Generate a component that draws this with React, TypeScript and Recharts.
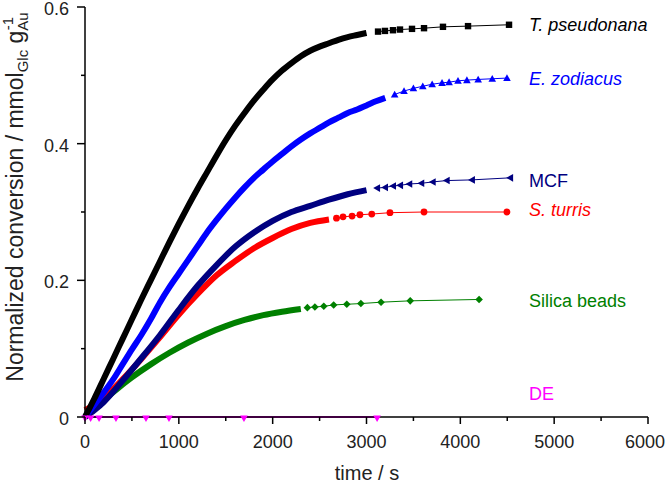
import React from 'react';
import { LineChart, Line, XAxis, YAxis } from 'recharts';

// ---- data (time in s, normalized conversion in mmol_Glc g_Au^-1) ----
const tpTime = [0, 100, 200, 300, 400, 500, 600, 700, 800, 900, 1000, 1100, 1200, 1300, 1400, 1500, 1600, 1700, 1800, 1900, 2000, 2100, 2200, 2300, 2400, 2500, 2600, 2700, 2800, 2900, 3000, 3123, 3197, 3282, 3357, 3485, 3613, 3815, 4082, 4519];
const tpConv = [0, 0.027, 0.056, 0.085, 0.114, 0.143, 0.172, 0.2, 0.228, 0.256, 0.283, 0.309, 0.334, 0.358, 0.382, 0.405, 0.426, 0.445, 0.463, 0.479, 0.494, 0.507, 0.518, 0.528, 0.536, 0.542, 0.547, 0.552, 0.556, 0.559, 0.562, 0.564, 0.565, 0.566, 0.567, 0.568, 0.569, 0.571, 0.572, 0.574];

const ezTime = [0, 100, 200, 300, 400, 500, 600, 700, 800, 900, 1000, 1100, 1200, 1300, 1400, 1500, 1600, 1700, 1800, 1900, 2000, 2100, 2200, 2300, 2400, 2500, 2600, 2700, 2800, 2900, 3000, 3100, 3200, 3300, 3400, 3500, 3600, 3700, 3805, 3880, 3975, 4070, 4190, 4340, 4497];
const ezConv = [0, 0.018, 0.036, 0.055, 0.077, 0.099, 0.12, 0.143, 0.168, 0.19, 0.21, 0.23, 0.25, 0.27, 0.288, 0.305, 0.321, 0.336, 0.35, 0.362, 0.374, 0.385, 0.396, 0.406, 0.415, 0.423, 0.431, 0.438, 0.445, 0.45, 0.456, 0.462, 0.467, 0.472, 0.477, 0.481, 0.484, 0.487, 0.489, 0.49, 0.492, 0.493, 0.494, 0.495, 0.496];

const mcfTime = [0, 100, 200, 400, 600, 800, 1000, 1200, 1400, 1600, 1800, 2000, 2200, 2400, 2600, 2800, 3000, 3112, 3197, 3282, 3357, 3455, 3583, 3705, 3854, 4123, 4530];
const mcfConv = [0, 0.01, 0.022, 0.053, 0.086, 0.12, 0.157, 0.192, 0.222, 0.249, 0.27, 0.287, 0.3, 0.309, 0.318, 0.326, 0.332, 0.335, 0.336, 0.338, 0.339, 0.341, 0.342, 0.344, 0.346, 0.347, 0.35];

const stTime = [0, 100, 200, 400, 600, 800, 1000, 1200, 1400, 1600, 1800, 2000, 2200, 2400, 2600, 2680, 2750, 2846, 2930, 3056, 3250, 3613, 4497];
const stConv = [0.01, 0.018, 0.028, 0.055, 0.085, 0.117, 0.15, 0.18, 0.207, 0.228, 0.247, 0.262, 0.275, 0.284, 0.289, 0.291, 0.293, 0.294, 0.296, 0.297, 0.299, 0.3, 0.3];

const sbTime = [0, 100, 200, 350, 500, 700, 900, 1100, 1300, 1500, 1700, 1900, 2100, 2300, 2370, 2450, 2545, 2650, 2790, 2940, 3155, 3466, 4200];
const sbConv = [0, 0.013, 0.025, 0.042, 0.058, 0.077, 0.094, 0.109, 0.122, 0.133, 0.142, 0.149, 0.154, 0.158, 0.16, 0.161, 0.162, 0.164, 0.165, 0.166, 0.168, 0.17, 0.172];

const deTime = [0, 60, 150, 330, 650, 895, 1694, 3113];
const deConv = [0, 0, 0, 0, 0, 0, 0, 0];

const seriesNames = ['T. pseudonana', 'E. zodiacus', 'MCF', 'S. turris', 'Silica beads', 'DE'];
const xTicks = [0, 500, 1000, 1500, 2000, 2500, 3000, 3500, 4000, 4500, 5000, 5500, 6000];
const yTicks = [0, 0.1, 0.2, 0.3, 0.4, 0.5, 0.6];
const yTickLabels: Record<string, string> = { '0': '0', '0.2': '0.2', '0.4': '0.4', '0.6': '0.6' };

const build = (ts: number[], vs: number[]) => ts.map((t, i) => ({ t, v: vs[i] }));

// ---- styling ----
const FONT = 'Liberation Sans, Arial, sans-serif';
const W = 666;
const H = 484;

type Shape = 'square' | 'up' | 'left' | 'circle' | 'diamond' | 'down';

const makeDot = (shape: Shape, color: string) => (props: any) => {
  const { cx, cy, index } = props;
  if (cx == null || cy == null) return <g key={index} />;
  let d = '';
  const s = 3.8;
  switch (shape) {
    case 'square':
      return <rect key={index} x={cx - 3.2} y={cy - 3.2} width={6.4} height={6.4} fill={color} />;
    case 'circle':
      return <circle key={index} cx={cx} cy={cy} r={3.4} fill={color} />;
    case 'up':
      d = `M${cx},${cy - s} L${cx + s},${cy + s * 0.8} L${cx - s},${cy + s * 0.8} Z`;
      break;
    case 'down': {
      const c = cy + 1.5;
      d = `M${cx},${c + s * 0.9} L${cx + s},${c - s * 0.8} L${cx - s},${c - s * 0.8} Z`;
      break;
    }
    case 'left':
      d = `M${cx - s},${cy} L${cx + s * 0.8},${cy - s} L${cx + s * 0.8},${cy + s} Z`;
      break;
    case 'diamond':
      d = `M${cx},${cy - s} L${cx + s},${cy} L${cx},${cy + s} L${cx - s},${cy} Z`;
      break;
  }
  return <path key={index} d={d} fill={color} />;
};

const series = [
  { name: seriesNames[0], data: build(tpTime, tpConv), color: '#000000', shape: 'square' as Shape, dense: 3050 },
  { name: seriesNames[1], data: build(ezTime, ezConv), color: '#0000ff', shape: 'up' as Shape, dense: 3250 },
  { name: seriesNames[2], data: build(mcfTime, mcfConv), color: '#000080', shape: 'left' as Shape, dense: 3050 },
  { name: seriesNames[3], data: build(stTime, stConv), color: '#ff0000', shape: 'circle' as Shape, dense: 2620 },
  { name: seriesNames[4], data: build(sbTime, sbConv), color: '#008000', shape: 'diamond' as Shape, dense: 2330 },
  { name: seriesNames[5], data: build(deTime, deConv), color: '#ff00ff', shape: 'down' as Shape, dense: -1 },
];
// draw order: lower curves first
const drawOrder = [5, 4, 3, 2, 1, 0];

const labelStyle = [
  { x: 529, y: 31, italic: true },
  { x: 529, y: 85, italic: true },
  { x: 529, y: 187, italic: false },
  { x: 529, y: 216, italic: true },
  { x: 529, y: 307, italic: false },
  { x: 529, y: 400, italic: false },
];

const XTick = (props: any) => {
  const { x, y, payload } = props;
  const v = payload.value;
  const major = v % 1000 === 0;
  const last = v === xTicks[xTicks.length - 1];
  return (
    <g>
      <line x1={x} y1={y} x2={x} y2={y + (major ? 7 : 4)} stroke="#000" strokeWidth={1.5} />
      {major && (
        <text
          x={last ? 665 : x}
          y={y + 31}
          textAnchor={last ? 'end' : 'middle'}
          fontFamily={FONT}
          fontSize={18}
          fill="#222"
        >
          {String(v)}
        </text>
      )}
    </g>
  );
};

const YTick = (props: any) => {
  const { x, y, payload } = props;
  const v = payload.value;
  const key = String(Math.round(v * 10) / 10);
  const label = yTickLabels[key];
  return (
    <g>
      <line x1={x} y1={y} x2={x - (label ? 8 : 4)} y2={y} stroke="#000" strokeWidth={1.5} />
      {label && (
        <text x={x - 16} y={y + 8} textAnchor="end" fontFamily={FONT} fontSize={18} fill="#222">
          {label}
        </text>
      )}
    </g>
  );
};

export default function App() {
  return (
    <div style={{ position: 'absolute', left: 0, top: 0, width: W, height: H, background: '#fff' }}>
      <LineChart width={W} height={H} margin={{ top: 7, right: 18, left: 0, bottom: 0 }}>
        <XAxis
          type="number"
          dataKey="t"
          domain={[0, 6000]}
          ticks={xTicks}
          interval={0}
          tickLine={false}
          tickSize={0}
          tickMargin={0}
          tick={<XTick />}
          height={67}
          axisLine={{ stroke: '#000', strokeWidth: 1.5 }}
          allowDuplicatedCategory={false}
        />
        <YAxis
          type="number"
          dataKey="v"
          domain={[0, 0.6]}
          ticks={yTicks}
          interval={0}
          tickLine={false}
          tickSize={0}
          tickMargin={0}
          tick={<YTick />}
          width={85}
          axisLine={{ stroke: '#000', strokeWidth: 1.5 }}
        />
        {drawOrder.map((i) => {
          const s = series[i];
          if (s.dense < 0) return null;
          return (
            <Line
              key={'thick' + i}
              data={s.data.filter((p) => p.t <= s.dense + 1)}
              dataKey="v"
              type="monotone"
              stroke={s.color}
              strokeWidth={6}
              dot={false}
              activeDot={false}
              isAnimationActive={false}
            />
          );
        })}
        {drawOrder.map((i) => {
          const s = series[i];
          return (
            <Line
              key={'thin' + i}
              data={s.data.filter((p) => p.t >= s.dense)}
              dataKey="v"
              type="linear"
              stroke={s.color}
              strokeWidth={s.dense < 0 ? 2 : 1}
              dot={makeDot(s.shape, s.color)}
              activeDot={false}
              isAnimationActive={false}
            />
          );
        })}
      </LineChart>
      <svg width={W} height={H} style={{ position: 'absolute', left: 0, top: 0, pointerEvents: 'none' }}>
        {series.map((s, i) => (
          <text
            key={i}
            x={labelStyle[i].x}
            y={labelStyle[i].y}
            fontFamily={FONT}
            fontSize={18}
            fontStyle={labelStyle[i].italic ? 'italic' : 'normal'}
            fill={s.color}
          >
            {s.name}
          </text>
        ))}
        <text x={367} y={480} textAnchor="middle" fontFamily={FONT} fontSize={20} fill="#222">
          time / s
        </text>
        <text
          transform="translate(23,197) rotate(-90)"
          textAnchor="middle"
          fontFamily={FONT}
          fontSize={23}
          fill="#222"
        >
          Normalized conversion / mmol
          <tspan fontSize={15} dy={5}>Glc</tspan>
          <tspan dy={-5}> g</tspan>
          <tspan fontSize={15} dy={5}>Au</tspan>
          <tspan fontSize={15} dx={-18} dy={-15}>-1</tspan>
        </text>
      </svg>
    </div>
  );
}
